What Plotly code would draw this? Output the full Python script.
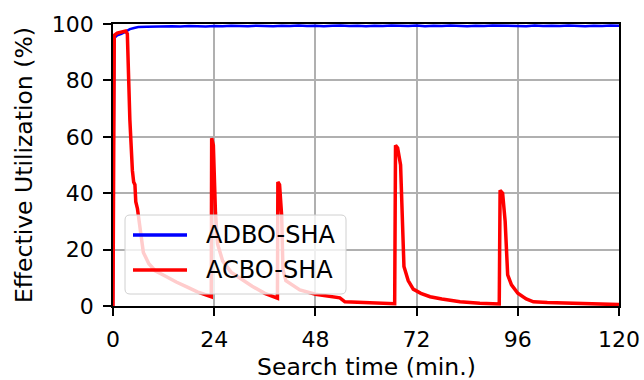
import plotly.graph_objects as go

# Search time (minutes) and effective utilization (%) for each scheduler
adbo_time = [0, 0.3, 1, 2, 3, 4, 5] + list(range(6, 121, 2))
adbo_util = [0, 95.0, 96.0, 96.5, 97.3, 98.2, 98.6,
             98.9, 99.0, 99.1, 99.0, 99.2, 99.1, 99.3, 99.2, 99.1, 99.3,
             99.2, 99.4, 99.3, 99.2, 99.4, 99.3, 99.2, 99.4, 99.3, 99.5,
             99.3, 99.4, 99.2, 99.4, 99.5, 99.3, 99.4, 99.2, 99.4, 99.3,
             99.5, 99.4, 99.3, 99.5, 99.2, 99.4, 99.3, 99.5, 99.4, 99.2,
             99.4, 99.3, 99.5, 99.4, 99.3, 99.4, 99.2, 99.5, 99.3, 99.4,
             99.3, 99.5, 99.4, 99.2, 99.4, 99.3, 99.5, 99.4]

acbo_time = [0, 0.3, 1.0, 2.0, 3.0, 3.4, 4.0, 4.6, 4.9, 5.2, 5.4, 5.8, 6.5,
             7.2, 8.5, 10, 12.7, 15, 17.5, 20, 23.3,
             23.4, 23.8, 24.3, 24.8, 26, 28, 30, 33, 36, 38.8, 39.0,
             39.1, 39.5, 40.0, 40.3, 41, 44.3, 48, 50, 53.8, 55, 60, 66.8,
             67.0, 67.5, 68.2, 69.0, 70, 71.2, 73, 75.2, 78, 82.3, 87, 91.6,
             91.8, 92.4, 93.0, 93.6, 94.5, 96, 98, 99.7, 103, 106, 110, 115, 120]
acbo_util = [0, 96, 96.8, 97.2, 97.5, 96.5, 66, 48, 44, 43, 37, 34.5, 27,
             19, 15, 12.5, 10.4, 8.5, 6.8, 5, 3.3,
             59.5, 57, 33, 22, 16, 12, 10, 7, 4.5, 3, 2.8,
             44, 43, 32, 13, 9, 5.7, 4.2, 3.8, 2.9, 1.5, 1.2, 0.8,
             57, 56, 50, 14, 9, 6, 4.5, 3.3, 2.5, 1.5, 1.0, 0.7,
             41, 40, 30, 11, 7.5, 4.5, 2.5, 1.5, 1.2, 1.1, 0.9, 0.7, 0.5]

x_ticks = [0, 24, 48, 72, 96, 120]
y_ticks = [0, 20, 40, 60, 80, 100]
series_names = ["ADBO-SHA", "ACBO-SHA"]
series_colors = ["#0000ff", "#ff0000"]

W, H = 644, 380
L, R, T, B = 113, 25, 24, 74
PW, PH = W - L - R, H - T - B
FONT = "DejaVu Sans"


def px(xp):
    return (xp - L) / PW


def py(yp):
    return (H - B - yp) / PH


fig = go.Figure()
fig.add_trace(go.Scatter(x=adbo_time, y=adbo_util, mode="lines",
                         line=dict(color=series_colors[0], width=2.5),
                         name=series_names[0], showlegend=False))
fig.add_trace(go.Scatter(x=acbo_time, y=acbo_util, mode="lines",
                         line=dict(color=series_colors[1], width=3.5),
                         name=series_names[1], showlegend=False))

# Legend box with rounded corners, semi-transparent over the data
x0, x1, y0, y1, r = 125, 346, 215, 294, 5
rx, ry = r / PW, r / PH
X0, X1, Y0, Y1 = px(x0), px(x1), py(y1), py(y0)
path = (f"M{X0 + rx},{Y0} L{X1 - rx},{Y0} Q{X1},{Y0} {X1},{Y0 + ry} "
        f"L{X1},{Y1 - ry} Q{X1},{Y1} {X1 - rx},{Y1} L{X0 + rx},{Y1} "
        f"Q{X0},{Y1} {X0},{Y1 - ry} L{X0},{Y0 + ry} Q{X0},{Y0} {X0 + rx},{Y0} Z")
fig.add_shape(type="path", path=path, xref="paper", yref="paper",
              fillcolor="rgba(255,255,255,0.8)",
              line=dict(color="#d0d0d0", width=1), layer="above")

for name, color, yc in zip(series_names, series_colors, [235, 270]):
    fig.add_shape(type="line", xref="paper", yref="paper",
                  x0=px(133), x1=px(187), y0=py(yc), y1=py(yc),
                  line=dict(color=color, width=3.5), layer="above")
    fig.add_annotation(x=px(204), y=py(yc), xref="paper", yref="paper",
                       text=name, showarrow=False, xanchor="left",
                       yanchor="middle",
                       font=dict(family=FONT, size=24, color="black"))

# Axis titles
fig.add_annotation(x=px(366), y=py(367), xref="paper", yref="paper",
                   text="Search time (min.)", showarrow=False,
                   xanchor="center", yanchor="middle",
                   font=dict(family=FONT, size=23.5, color="black"))
fig.add_annotation(x=px(24), y=py(165), xref="paper", yref="paper",
                   text="Effective Utilization (%)", showarrow=False,
                   textangle=-90, xanchor="center", yanchor="middle",
                   font=dict(family=FONT, size=23.5, color="black"))

axis_common = dict(showgrid=True, gridcolor="#b0b0b0", gridwidth=1.5,
                   showline=True, linecolor="black", linewidth=1.5,
                   mirror=True, ticks="outside", ticklen=8, tickwidth=1.5,
                   tickcolor="black", zeroline=False, automargin=False,
                   ticklabelstandoff=5,
                   tickfont=dict(family=FONT, size=22, color="black"))

fig.update_xaxes(range=[0, 120], tickvals=x_ticks, **axis_common)
fig.update_yaxes(range=[0, 100], tickvals=y_ticks, **axis_common)

fig.update_layout(width=W, height=H,
                  margin=dict(l=L, r=R, t=T, b=B, autoexpand=False),
                  plot_bgcolor="white", paper_bgcolor="white",
                  showlegend=False)

fig.write_html("out.html")
